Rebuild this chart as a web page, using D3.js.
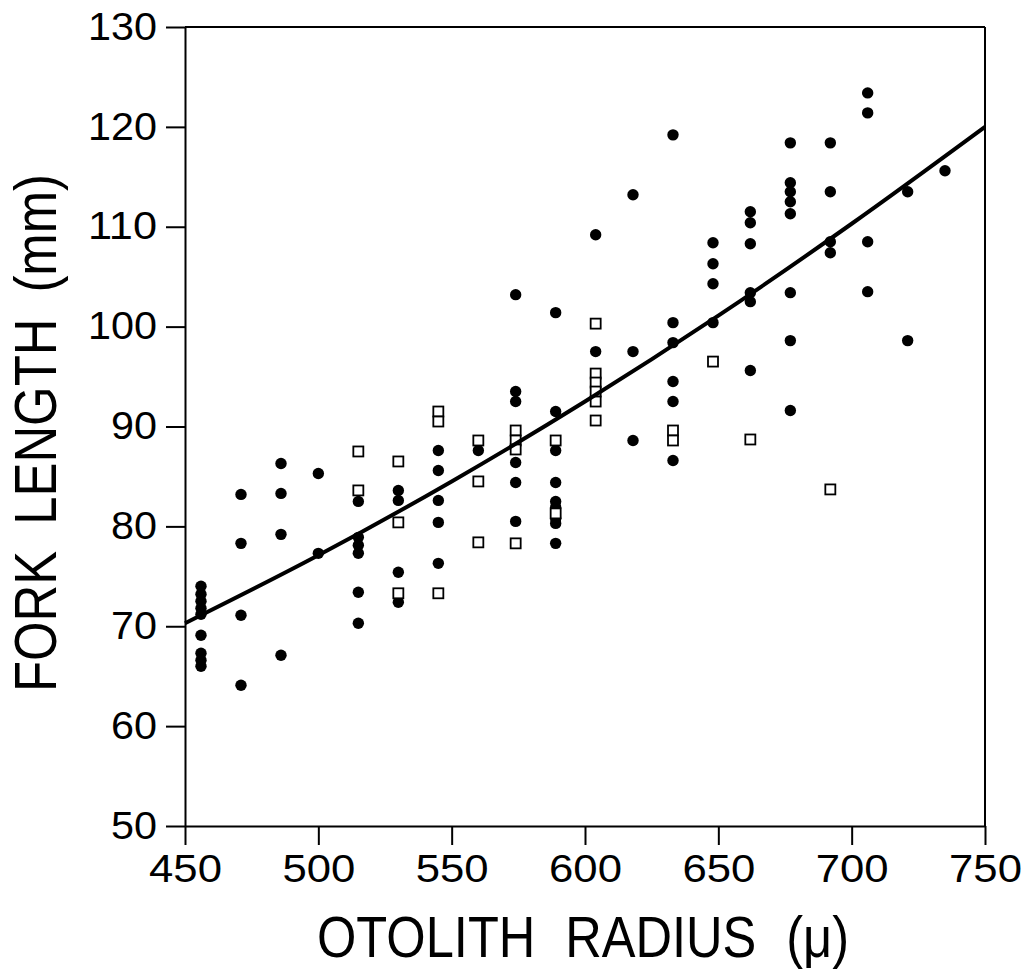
<!DOCTYPE html>
<html lang="en">
<head>
  <meta charset="utf-8" />
  <title>Fork length vs otolith radius</title>
  <script type="text/javascript" src="https://cdn.jsdelivr.net/npm/d3@7"></script>
  <style type="text/css">
body { margin: 0; background: white; }
svg text { font-family: "Liberation Sans", Arial, Helvetica, sans-serif; fill: black; }
  </style>
</head>
<body>

<script type="text/javascript">

var w = 1028;
var h = 976;

// filled circles, read column by column
var filledRadius = [
  456, 456, 456, 456, 456, 456, 456, 456, 456,
  471, 471, 471, 471,
  486, 486, 486, 486,
  500, 500,
  515, 515, 515, 515, 515, 515,
  530, 530, 530, 530,
  545, 545, 545, 545, 545,
  560,
  574, 574, 574, 574, 574, 574,
  589, 589, 589, 589, 589, 589, 589, 589, 589,
  604, 604,
  618, 618, 618,
  633, 633, 633, 633, 633, 633,
  648, 648, 648, 648,
  662, 662, 662, 662, 662, 662,
  677, 677, 677, 677, 677, 677, 677, 677,
  692, 692, 692, 692,
  706, 706, 706, 706,
  721, 721,
  735
];
var filledLength = [
  74.0, 73.2, 72.5, 71.8, 71.2, 69.1, 67.3, 66.6, 66.0,
  83.2, 78.3, 71.1, 64.1,
  86.3, 83.3, 79.2, 67.1,
  85.3, 77.3,
  82.5, 78.9, 78.1, 77.3, 73.4, 70.3,
  83.6, 82.6, 75.4, 72.4,
  87.6, 85.6, 82.6, 80.4, 76.3,
  87.6,
  103.2, 93.5, 92.5, 86.4, 84.4, 80.5,
  101.4, 91.5, 87.6, 84.4, 82.5, 81.9, 80.8, 80.3, 78.3,
  109.2, 97.5,
  113.2, 97.5, 88.6,
  119.2, 100.4, 98.4, 94.5, 92.5, 86.6,
  108.4, 106.3, 104.3, 100.4,
  111.5, 110.4, 108.3, 103.4, 102.5, 95.6,
  118.4, 114.4, 113.5, 112.5, 111.3, 103.4, 98.6, 91.6,
  118.4, 113.5, 108.5, 107.4,
  123.4, 121.4, 108.5, 103.5,
  113.5, 98.6,
  115.6
];

// open squares
var openRadius = [
  515, 515,
  530, 530, 530,
  545, 545, 545,
  560, 560, 560,
  574, 574, 574, 574,
  589, 589,
  604, 604, 604, 604, 604, 604,
  633, 633,
  648,
  662,
  692
];
var openLength = [
  87.5, 83.6,
  86.5, 80.4, 73.3,
  91.5, 90.5, 73.3,
  88.6, 84.5, 78.4,
  89.6, 88.6, 87.7, 78.3,
  88.6, 81.3,
  100.3, 95.3, 94.4, 93.5, 92.5, 90.6,
  89.6, 88.6,
  96.5,
  88.7,
  83.7
];

var curveRadius = [450, 500, 550, 600, 650, 700, 750];
var curveLength = [70.3, 77.1, 84.5, 92.5, 101.1, 110.3, 120.0];

var xTicks = [450, 500, 550, 600, 650, 700, 750];
var yTicks = [50, 60, 70, 80, 90, 100, 110, 120, 130];

var pad = { left: 185, right: 43, top: 27, bottom: 150 };

var svg = d3.select("body")
    .append("svg")
    .attr("width", w)
    .attr("height", h);

var x = d3.scaleLinear()
    .domain([450, 750])
    .range([pad.left, w - pad.right]);
var y = d3.scaleLinear()
    .domain([50, 130])
    .range([h - pad.bottom, pad.top]);

// frame: top and right edges
svg.append("line")
    .attr("x1", x(450)).attr("x2", x(750))
    .attr("y1", y(130)).attr("y2", y(130))
    .attr("stroke", "black").attr("stroke-width", 2);
svg.append("line")
    .attr("x1", x(750)).attr("x2", x(750))
    .attr("y1", y(130)).attr("y2", y(50))
    .attr("stroke", "black").attr("stroke-width", 2);

var xAxis = svg.append("g")
    .attr("transform", "translate(0," + y(50) + ")")
    .call(d3.axisBottom(x).tickValues(xTicks).tickSize(19).tickSizeOuter(0).tickPadding(10));
var yAxis = svg.append("g")
    .attr("transform", "translate(" + x(450) + ",0)")
    .call(d3.axisLeft(y).tickValues(yTicks).tickSize(19).tickSizeOuter(0).tickPadding(9));

[xAxis, yAxis].forEach(function(g) {
  g.select(".domain").attr("stroke-width", 2);
  g.selectAll(".tick line").attr("stroke-width", 2);
  g.selectAll(".tick text")
      .attr("font-size", 38)
      .attr("font-family", null)
      .attr("fill", "black");
});
xAxis.selectAll(".tick text")
    .attr("textLength", function(d) { return String(d).length * 24.3; })
    .attr("lengthAdjust", "spacingAndGlyphs");
yAxis.selectAll(".tick text")
    .attr("textLength", function(d) { return String(d).length * 23; })
    .attr("lengthAdjust", "spacingAndGlyphs");

// points
svg.append("g").attr("id", "filled")
  .selectAll("circle")
    .data(d3.range(filledRadius.length))
  .enter().append("circle")
    .attr("cx", function(i) { return x(filledRadius[i]); })
    .attr("cy", function(i) { return y(filledLength[i]); })
    .attr("r", 5.7)
    .attr("fill", "black");

var sq = 10;
svg.append("g").attr("id", "open")
  .selectAll("rect")
    .data(d3.range(openRadius.length))
  .enter().append("rect")
    .attr("x", function(i) { return x(openRadius[i]) - sq / 2; })
    .attr("y", function(i) { return y(openLength[i]) - sq / 2; })
    .attr("width", sq)
    .attr("height", sq)
    .attr("fill", "white")
    .attr("stroke", "black")
    .attr("stroke-width", 1.8);

var line = d3.line()
    .x(function(i) { return x(curveRadius[i]); })
    .y(function(i) { return y(curveLength[i]); })
    .curve(d3.curveMonotoneX);
svg.append("path")
    .datum(d3.range(curveRadius.length))
    .attr("d", line)
    .attr("fill", "none")
    .attr("stroke", "black")
    .attr("stroke-width", 4);

// axis titles
svg.append("text")
    .attr("x", 317)
    .attr("y", 957)
    .attr("font-size", 58)
    .attr("textLength", 532)
    .attr("lengthAdjust", "spacingAndGlyphs")
    .style("word-spacing", "18px")
    .text("OTOLITH RADIUS (\u03bc)");

svg.append("text")
    .attr("transform", "translate(56,692) rotate(-90)")
    .attr("font-size", 60)
    .attr("textLength", 518)
    .attr("lengthAdjust", "spacingAndGlyphs")
    .style("word-spacing", "14px")
    .text("FORK LENGTH (mm)");

</script>

</body>
</html>
